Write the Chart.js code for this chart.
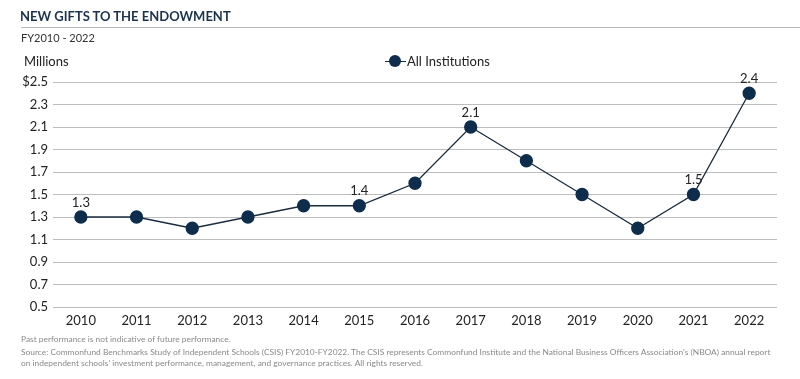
<!DOCTYPE html>
<html>
<head>
<meta charset="utf-8">
<script src="https://cdn.jsdelivr.net/npm/chart.js@4"></script>
<style>
  html,body{margin:0;padding:0;background:#fff;}
  body{width:800px;height:379px;position:relative;overflow:hidden;font-family:Lato,"Open Sans",sans-serif;}
  #wrap{position:absolute;left:0;top:0;width:800px;height:379px;}
  .t{position:absolute;white-space:nowrap;}
  #title{left:20px;top:8px;font-size:13px;font-weight:bold;color:#1b3350;}
  #rule{position:absolute;left:21px;top:27px;width:779px;height:1px;background:#b8b8b8;}
  #sub{left:21px;top:31px;font-size:11px;color:#333;}
  #units{left:24px;top:53px;font-size:13px;color:#222;}
  #legend{left:385px;top:53px;font-size:13px;color:#222;}
  #legend .mk{display:inline-block;position:relative;width:21px;height:14px;vertical-align:-2px;margin-right:1px;}
  #legend .mk .ln{position:absolute;left:0;top:6.5px;width:21px;height:1.3px;background:#1a2b3c;}
  #legend .mk .dt{position:absolute;left:4px;top:1px;width:12px;height:12px;border-radius:50%;background:#0e2d4d;}
  .fn{left:21px;font-size:8.4px;color:#8a8a8a;}
</style>
</head>
<body>
<div id="wrap"><canvas id="c" width="800" height="379"></canvas></div>
<div class="t" id="title">NEW GIFTS TO THE ENDOWMENT</div>
<div id="rule"></div>
<div class="t" id="sub">FY2010 - 2022</div>
<div class="t" id="units">Millions</div>
<div class="t" id="legend"><span class="mk"><span class="ln"></span><span class="dt"></span></span>All Institutions</div>
<div class="t fn" style="top:334px">Past performance is not indicative of future performance.</div>
<div class="t fn" style="top:347px">Source: Commonfund Benchmarks Study of Independent Schools (CSIS) FY2010-FY2022. The CSIS represents Commonfund Institute and the National Business Officers Association's (NBOA) annual report</div>
<div class="t fn" style="top:358px">on independent schools' investment performance, management, and governance practices. All rights reserved.</div>
<script>
const years = ["2010","2011","2012","2013","2014","2015","2016","2017","2018","2019","2020","2021","2022"];
const allInstitutions = [1.3, 1.3, 1.2, 1.3, 1.4, 1.4, 1.6, 2.1, 1.8, 1.5, 1.2, 1.5, 2.4];
const labeledYears = ["2010","2015","2017","2021","2022"];
const yMin = 0.5, yMax = 2.5, yStep = 0.2;

const valueLabels = {
  id: 'valueLabels',
  afterDatasetsDraw(chart) {
    const ctx = chart.ctx;
    const meta = chart.getDatasetMeta(0);
    ctx.save();
    ctx.font = '13px Lato, "Open Sans", sans-serif';
    ctx.fillStyle = '#222';
    ctx.textAlign = 'center';
    ctx.textBaseline = 'bottom';
    meta.data.forEach((pt, i) => {
      if (labeledYears.includes(years[i])) {
        ctx.fillText(allInstitutions[i].toFixed(1), pt.x, pt.y - 8);
      }
    });
    ctx.restore();
  }
};

new Chart(document.getElementById('c'), {
  type: 'line',
  data: {
    labels: years,
    datasets: [{
      label: 'All Institutions',
      data: allInstitutions,
      borderColor: '#1a2b3c',
      borderWidth: 1.3,
      backgroundColor: '#0e2d4d',
      pointBackgroundColor: '#0e2d4d',
      pointBorderColor: '#0e2d4d',
      pointRadius: 6,
      pointHoverRadius: 6,
      tension: 0,
      fill: false
    }]
  },
  options: {
    responsive: false,
    animation: false,
    devicePixelRatio: 1,
    layout: { padding: { left: 0, right: 23, top: 82, bottom: 0 } },
    plugins: { legend: { display: false }, tooltip: { enabled: false } },
    scales: {
      x: {
        offset: true,
        grid: { display: false, drawTicks: false },
        border: { display: false },
        ticks: { padding: 6, color: '#222', font: { family: 'Lato, "Open Sans", sans-serif', size: 13 }, maxRotation: 0, autoSkip: false },
        afterFit(s) { s.height = 72; }
      },
      y: {
        min: yMin, max: yMax,
        grid: { color: '#bdbdbd', lineWidth: 1, drawTicks: false },
        border: { display: false },
        ticks: {
          stepSize: yStep, padding: 5, color: '#222',
          font: { family: 'Lato, "Open Sans", sans-serif', size: 13 },
          callback(v) { const s = Number(v).toFixed(1); return Math.abs(v - yMax) < 1e-6 ? '$' + s : s; }
        },
        afterFit(s) { s.width = 53; }
      }
    }
  },
  plugins: [valueLabels]
});
</script>
</body>
</html>
